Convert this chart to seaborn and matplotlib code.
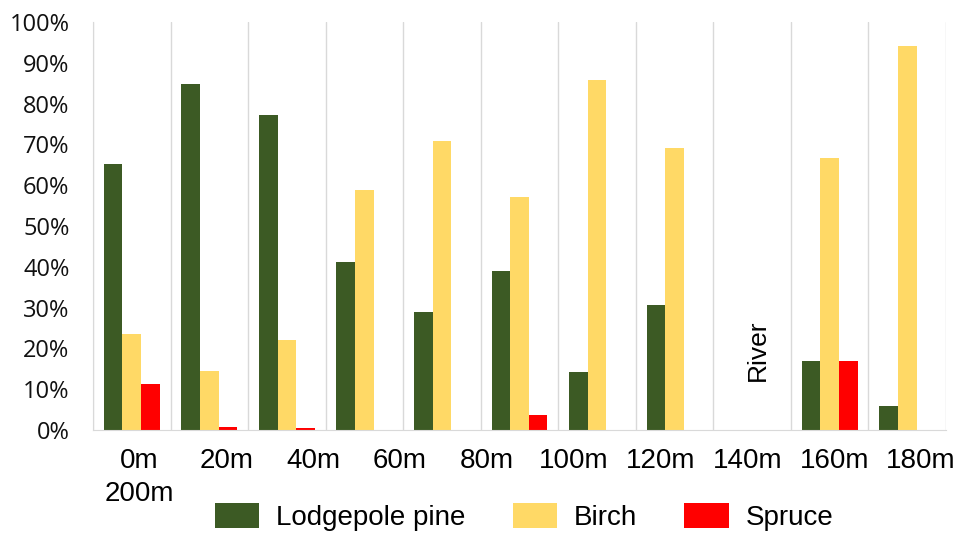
import matplotlib
matplotlib.use("Agg")
import matplotlib.pyplot as plt
import numpy as np
import pandas as pd
import seaborn as sns
from matplotlib.patches import Patch
from matplotlib.transforms import blended_transform_factory

sites = ["0m", "20m", "40m", "60m", "80m", "100m", "120m", "140m", "160m", "180m", "200m"]
species = ["Lodgepole pine", "Birch", "Spruce"]
lodgepole = [65.2, 84.8, 77.3, 41.2, 29.0, 39.0, 14.2, 30.7, 0.0, 16.8, 6.0]
birch = [23.5, 14.5, 22.0, 58.8, 70.9, 57.1, 85.8, 69.2, 0.0, 66.7, 94.1]
spruce = [11.3, 0.7, 0.5, 0.0, 0.0, 3.7, 0.0, 0.0, 0.0, 16.8, 0.0]
colors = ["#3c5a24", "#ffd966", "#ff0000"]
river_site = "160m"

df = pd.DataFrame({
    "site": sites * 3,
    "species": [s for s in species for _ in sites],
    "pct": lodgepole + birch + spruce,
})

sns.set_style("white")
plt.rcParams["text.color"] = "black"
fig = plt.figure(figsize=(9.61, 5.33), dpi=100)
ax = fig.add_axes([93 / 961, 1 - 430 / 533, (946 - 93) / 961, (430 - 22) / 533])

sns.barplot(data=df, x="site", y="pct", hue="species", order=sites, hue_order=species,
            palette=colors, saturation=1, width=0.72, linewidth=0, legend=False, ax=ax)

ax.set_xlim(-0.5, len(sites) - 0.5)
ax.set_ylim(0, 100)
ax.set_yticks(np.arange(0, 101, 10))
ax.set_yticklabels([f"{v}%" for v in range(0, 101, 10)], family="Open Sans", fontsize=17, color="#111111")
ax.tick_params(axis="y", length=0, pad=17)
ax.set_xticks([])
ax.set_xticks(np.arange(-0.5, len(sites)), minor=True)
ax.tick_params(axis="x", which="minor", length=0)
ax.grid(axis="x", which="minor", color="#d9d9d9", linewidth=1)
ax.set_axisbelow(True)
for side in ["top", "right"]:
    ax.spines[side].set_visible(False)
for side in ["left", "bottom"]:
    ax.spines[side].set_color("#d9d9d9")
ax.set_xlabel("")
ax.set_ylabel("")

# distance labels, typed as one loose row under the axis with 200m wrapped
trans = blended_transform_factory(ax.transData, fig.transFigure)
for i, lab in enumerate(sites[:-1]):
    ax.text(0.1 + i * 1.12, 1 - 461 / 533, lab, transform=trans, ha="center", va="center",
            family="Liberation Sans", fontsize=20, color="black")
ax.text(0.1, 1 - 494 / 533, sites[-1], transform=trans, ha="center", va="center",
        family="Liberation Sans", fontsize=20, color="black")

ax.text(sites.index(river_site) + 0.08, 19.5, "River", rotation=90, ha="center", va="center",
        family="Liberation Sans", fontsize=19, color="black")

handles = [Patch(facecolor=c, edgecolor="none") for c in colors]
fig.legend(handles, species, loc="center", bbox_to_anchor=(524 / 961, 1 - 517 / 533), ncol=3,
           frameon=False, prop={"family": "Liberation Sans", "size": 20},
           handlelength=1.6, handleheight=1.0, handletextpad=0.6, columnspacing=1.7)

fig.savefig("out.png", dpi=100)
